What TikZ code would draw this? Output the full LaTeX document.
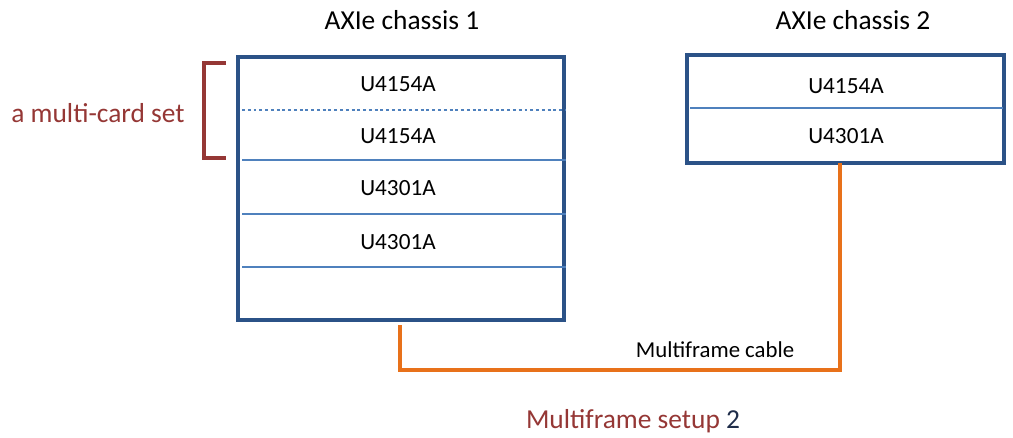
\documentclass[tikz,border=0pt]{standalone}
\usepackage{fontspec}
\setmainfont{Carlito}
\definecolor{frameblue}{HTML}{2B5287}
\definecolor{slotblue}{HTML}{4F81BD}
\definecolor{cableorange}{HTML}{E8711A}
\definecolor{setred}{HTML}{953735}
\definecolor{darknum}{HTML}{1F2D4A}
\begin{document}
\begin{tikzpicture}[
  x=0.025cm, y=-0.025cm,
  chassis/.style={draw=frameblue, line width=2.4pt, inner sep=0pt},
  slot/.style={slotblue, line width=2.1pt},
  dotslot/.style={slot, dotted},
  card/.style={font=\fontsize{16.5}{19}\selectfont, text=black},
  ctitle/.style={font=\fontsize{19.5}{23}\selectfont, text=black},
  cable/.style={cableorange, line width=2.3pt},
  brace/.style={setred, line width=2.3pt},
  note/.style={font=\fontsize{19.5}{23}\selectfont, text=setred},
]
\useasboundingbox (0,0) rectangle (1013,437);

% --- AXIe chassis 1 (left) ---
\node[ctitle] (t1) at (402, 20) {AXIe chassis 1};
\node[chassis, minimum width=8.15cm, minimum height=6.575cm] (ch1) at (401, 188.5) {};

\node[card] (c11) at (398, 84) {U4154A};
\node[card] (c12) at (398, 136) {U4154A};
\node[card] (c13) at (398, 188) {U4301A};
\node[card] (c14) at (398, 242) {U4301A};

\draw[dotslot] (242, 110) -- (566, 110);
\draw[slot] (242, 160) -- (566, 160);
\draw[slot] (242, 214) -- (566, 214);
\draw[slot] (242, 267) -- (566, 267);

% --- AXIe chassis 2 (right) ---
\node[ctitle] (t2) at (853, 20) {AXIe chassis 2};
\node[chassis, minimum width=7.925cm, minimum height=2.7cm] (ch2) at (845.5, 109) {};

\node[card] (c21) at (846, 86) {U4154A};
\node[card] (c22) at (846, 136) {U4301A};

\draw[slot] (690, 108) -- (1003, 108);

% --- multi-card set bracket ---
\node[note] (mset) at (98, 113) {a multi-card set};
\draw[brace] (226, 63) -- (204, 63) -- (204, 158) -- (226, 158);

% --- cable ---
\coordinate (p1) at (400, 325);
\coordinate (p2) at (840, 163);
\draw[cable] (p1) -- ++(0, 45) -| (p2);
\node[card, font=\fontsize{16.2}{19}\selectfont] (clab) at (715, 350) {Multiframe cable};

% --- caption ---
\node[note] (setup) at (633, 421) {Multiframe setup \textcolor{darknum}{2}};

\end{tikzpicture}
\end{document}
